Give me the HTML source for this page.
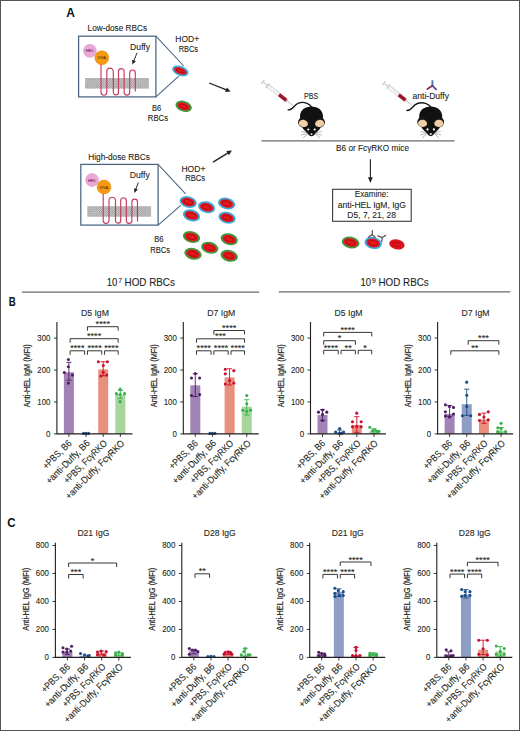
<!DOCTYPE html>
<html><head><meta charset="utf-8"><style>
html,body{margin:0;padding:0;background:#fff;}
svg{display:block;}
text{font-family:"Liberation Sans", sans-serif;}
</style></head><body>
<svg width="520" height="731" viewBox="0 0 520 731" font-family='"Liberation Sans", sans-serif'>
<defs>
<pattern id="mem" width="2.2" height="2.2" patternUnits="userSpaceOnUse">
<rect width="2.2" height="2.2" fill="#d6d6d6"/>
<circle cx="0.55" cy="0.55" r="0.55" fill="#7a7a7a"/>
<circle cx="1.65" cy="1.65" r="0.55" fill="#7a7a7a"/>
</pattern>
</defs>
<rect x="0" y="0" width="520" height="731" fill="#fff"/>
<text x="66.20" y="17.10" font-size="12" text-anchor="start" fill="#111" font-weight="bold" >A</text>
<text x="87.60" y="31.30" font-size="8.5" text-anchor="start" fill="#231f20" font-weight="normal" stroke="#231f20" stroke-width="0.1" textLength="59.5" lengthAdjust="spacingAndGlyphs" >Low-dose RBCs</text>
<rect x="85.10" y="78.00" width="63.80" height="10.6" fill="url(#mem)"/>
<path d="M101.00,57.20 L101.00,92.30 A2.9,2.9 0 0 0 106.80,92.30 L106.80,71.40 A3.25,3.25 0 0 1 113.30,71.40 L113.30,92.30 A2.6,2.6 0 0 0 118.50,92.30 L118.50,71.40 A2.8,2.8 0 0 1 124.10,71.40 L124.10,92.30 A2.8,2.8 0 0 0 129.70,92.30 L129.70,72.80 A2.8,2.8 0 0 1 135.30,72.80 L135.30,91.60" fill="none" stroke="#c8385e" stroke-width="1.15"/>
<circle cx="89.90" cy="50.80" r="6.5" fill="#eaa8d4" stroke="#d990c6" stroke-width="0.5"/>
<text x="89.90" y="52.30" font-size="4.3" text-anchor="middle" fill="#7a2a6e" font-weight="normal" stroke="#7a2a6e" stroke-width="0.1" >HEL</text>
<circle cx="101.80" cy="57.80" r="7.0" fill="#f39a12" stroke="#e08400" stroke-width="0.5"/>
<text x="101.80" y="59.30" font-size="4.3" text-anchor="middle" fill="#6a3400" font-weight="normal" stroke="#6a3400" stroke-width="0.1" >OVA</text>
<text x="130.10" y="50.00" font-size="8.5" text-anchor="start" fill="#231f20" font-weight="normal" stroke="#231f20" stroke-width="0.1" textLength="20" lengthAdjust="spacingAndGlyphs" >Duffy</text>
<line x1="137.00" y1="52.80" x2="133.82" y2="60.97" stroke="#231f20" stroke-width="0.95"/>
<path d="M132.40,64.60 L132.13,59.77 L135.86,61.23 Z" fill="#231f20"/>
<rect x="78.60" y="36.20" width="77.3" height="60.7" fill="none" stroke="#4a6480" stroke-width="1.25"/>
<line x1="155.90" y1="36.20" x2="183.70" y2="66.00" stroke="#4a6480" stroke-width="1.05"/>
<line x1="155.90" y1="96.90" x2="178.80" y2="76.20" stroke="#4a6480" stroke-width="1.05"/>
<text x="88.30" y="159.50" font-size="8.5" text-anchor="start" fill="#231f20" font-weight="normal" stroke="#231f20" stroke-width="0.1" textLength="61.5" lengthAdjust="spacingAndGlyphs" >High-dose RBCs</text>
<rect x="87.30" y="206.20" width="63.80" height="10.6" fill="url(#mem)"/>
<path d="M103.20,185.40 L103.20,220.50 A2.9,2.9 0 0 0 109.00,220.50 L109.00,200.50 A3.25,3.25 0 0 1 115.50,200.50 L115.50,220.50 A2.6,2.6 0 0 0 120.70,220.50 L120.70,200.50 A2.8,2.8 0 0 1 126.30,200.50 L126.30,220.50 A2.8,2.8 0 0 0 131.90,220.50 L131.90,201.90 A2.8,2.8 0 0 1 137.50,201.90 L137.50,221.60" fill="none" stroke="#c8385e" stroke-width="1.15"/>
<circle cx="92.10" cy="180.00" r="6.5" fill="#eaa8d4" stroke="#d990c6" stroke-width="0.5"/>
<text x="92.10" y="181.50" font-size="4.3" text-anchor="middle" fill="#7a2a6e" font-weight="normal" stroke="#7a2a6e" stroke-width="0.1" >HEL</text>
<circle cx="104.00" cy="187.00" r="7.0" fill="#f39a12" stroke="#e08400" stroke-width="0.5"/>
<text x="104.00" y="188.50" font-size="4.3" text-anchor="middle" fill="#6a3400" font-weight="normal" stroke="#6a3400" stroke-width="0.1" >OVA</text>
<text x="129.80" y="178.20" font-size="8.5" text-anchor="start" fill="#231f20" font-weight="normal" stroke="#231f20" stroke-width="0.1" textLength="20" lengthAdjust="spacingAndGlyphs" >Duffy</text>
<line x1="138.30" y1="182.50" x2="135.76" y2="189.34" stroke="#231f20" stroke-width="0.95"/>
<path d="M134.40,193.00 L134.06,188.18 L137.81,189.57 Z" fill="#231f20"/>
<rect x="80.80" y="164.40" width="77.3" height="60.7" fill="none" stroke="#4a6480" stroke-width="1.25"/>
<line x1="158.10" y1="164.40" x2="185.60" y2="193.80" stroke="#4a6480" stroke-width="1.05"/>
<line x1="158.10" y1="225.10" x2="180.80" y2="205.40" stroke="#4a6480" stroke-width="1.05"/>
<text x="187.20" y="42.40" font-size="8.4" text-anchor="middle" fill="#231f20" font-weight="normal" stroke="#231f20" stroke-width="0.1" textLength="23.8" lengthAdjust="spacingAndGlyphs" >HOD+</text>
<text x="188.40" y="51.80" font-size="8.4" text-anchor="middle" fill="#231f20" font-weight="normal" stroke="#231f20" stroke-width="0.1" textLength="19.4" lengthAdjust="spacingAndGlyphs" >RBCs</text>
<text x="156.70" y="110.90" font-size="8.4" text-anchor="middle" fill="#231f20" font-weight="normal" stroke="#231f20" stroke-width="0.1" textLength="9.3" lengthAdjust="spacingAndGlyphs" >B6</text>
<text x="157.90" y="121.10" font-size="8.4" text-anchor="middle" fill="#231f20" font-weight="normal" stroke="#231f20" stroke-width="0.1" textLength="20.2" lengthAdjust="spacingAndGlyphs" >RBCs</text>
<g transform="translate(180.40,70.90) rotate(20)"><ellipse rx="8.6" ry="4.9" fill="#3aaee0"/><ellipse rx="6.70" ry="3.20" fill="#e3171d"/><ellipse rx="4.40" ry="1.50" fill="none" stroke="#b00a14" stroke-width="0.9"/></g>
<g transform="translate(183.60,106.30) rotate(18)"><ellipse rx="8.4" ry="5.3" fill="#3d9b3f"/><ellipse rx="6.50" ry="3.60" fill="#e3171d"/><ellipse rx="4.20" ry="1.90" fill="none" stroke="#b00a14" stroke-width="0.9"/></g>
<text x="193.40" y="171.80" font-size="8.4" text-anchor="middle" fill="#231f20" font-weight="normal" stroke="#231f20" stroke-width="0.1" textLength="24.0" lengthAdjust="spacingAndGlyphs" >HOD+</text>
<text x="195.20" y="181.40" font-size="8.4" text-anchor="middle" fill="#231f20" font-weight="normal" stroke="#231f20" stroke-width="0.1" textLength="20.0" lengthAdjust="spacingAndGlyphs" >RBCs</text>
<text x="158.90" y="242.30" font-size="8.4" text-anchor="middle" fill="#231f20" font-weight="normal" stroke="#231f20" stroke-width="0.1" textLength="9.4" lengthAdjust="spacingAndGlyphs" >B6</text>
<text x="160.10" y="252.70" font-size="8.4" text-anchor="middle" fill="#231f20" font-weight="normal" stroke="#231f20" stroke-width="0.1" textLength="19.8" lengthAdjust="spacingAndGlyphs" >RBCs</text>
<g transform="translate(188.20,202.00) rotate(15)"><ellipse rx="8.8" ry="5.8" fill="#3aaee0"/><ellipse rx="6.90" ry="4.10" fill="#e3171d"/><ellipse rx="4.60" ry="2.40" fill="none" stroke="#b00a14" stroke-width="0.9"/></g>
<g transform="translate(206.60,207.20) rotate(15)"><ellipse rx="8.8" ry="5.8" fill="#3aaee0"/><ellipse rx="6.90" ry="4.10" fill="#e3171d"/><ellipse rx="4.60" ry="2.40" fill="none" stroke="#b00a14" stroke-width="0.9"/></g>
<g transform="translate(226.60,203.50) rotate(15)"><ellipse rx="8.8" ry="5.8" fill="#3aaee0"/><ellipse rx="6.90" ry="4.10" fill="#e3171d"/><ellipse rx="4.60" ry="2.40" fill="none" stroke="#b00a14" stroke-width="0.9"/></g>
<g transform="translate(191.50,215.40) rotate(15)"><ellipse rx="8.8" ry="5.8" fill="#3aaee0"/><ellipse rx="6.90" ry="4.10" fill="#e3171d"/><ellipse rx="4.60" ry="2.40" fill="none" stroke="#b00a14" stroke-width="0.9"/></g>
<g transform="translate(227.00,217.70) rotate(15)"><ellipse rx="8.8" ry="5.8" fill="#3aaee0"/><ellipse rx="6.90" ry="4.10" fill="#e3171d"/><ellipse rx="4.60" ry="2.40" fill="none" stroke="#b00a14" stroke-width="0.9"/></g>
<g transform="translate(191.50,237.00) rotate(15)"><ellipse rx="8.8" ry="5.8" fill="#3d9b3f"/><ellipse rx="6.90" ry="4.10" fill="#e3171d"/><ellipse rx="4.60" ry="2.40" fill="none" stroke="#b00a14" stroke-width="0.9"/></g>
<g transform="translate(229.20,239.20) rotate(15)"><ellipse rx="8.8" ry="5.8" fill="#3d9b3f"/><ellipse rx="6.90" ry="4.10" fill="#e3171d"/><ellipse rx="4.60" ry="2.40" fill="none" stroke="#b00a14" stroke-width="0.9"/></g>
<g transform="translate(209.70,247.70) rotate(15)"><ellipse rx="8.8" ry="5.8" fill="#3d9b3f"/><ellipse rx="6.90" ry="4.10" fill="#e3171d"/><ellipse rx="4.60" ry="2.40" fill="none" stroke="#b00a14" stroke-width="0.9"/></g>
<g transform="translate(193.00,253.80) rotate(15)"><ellipse rx="8.8" ry="5.8" fill="#3d9b3f"/><ellipse rx="6.90" ry="4.10" fill="#e3171d"/><ellipse rx="4.60" ry="2.40" fill="none" stroke="#b00a14" stroke-width="0.9"/></g>
<g transform="translate(229.20,255.80) rotate(15)"><ellipse rx="8.8" ry="5.8" fill="#3d9b3f"/><ellipse rx="6.90" ry="4.10" fill="#e3171d"/><ellipse rx="4.60" ry="2.40" fill="none" stroke="#b00a14" stroke-width="0.9"/></g>
<line x1="209.20" y1="83.00" x2="226.42" y2="89.92" stroke="#231f20" stroke-width="1.3"/>
<path d="M230.60,91.60 L225.03,92.06 L226.89,87.42 Z" fill="#231f20"/>
<line x1="213.00" y1="162.10" x2="228.06" y2="152.85" stroke="#231f20" stroke-width="1.3"/>
<path d="M231.90,150.50 L228.95,155.25 L226.33,150.98 Z" fill="#231f20"/>
<g transform="translate(262.00,81.20) rotate(38.21)">
<rect x="0.5" y="-2.6" width="1.1" height="5.2" fill="#c4c4c4"/>
<rect x="1.6" y="-0.8" width="6.31" height="1.6" fill="#d6d6d6"/>
<rect x="7.50" y="-1.8" width="23.67" height="3.6" fill="#f6f6f6" stroke="#bdbdbd" stroke-width="0.5"/>
<rect x="6.70" y="-2.9" width="0.9" height="5.8" fill="#c0c0c0"/>
<line x1="9.70" y1="-1.8" x2="9.70" y2="-0.4" stroke="#b0b0b0" stroke-width="0.4"/>
<line x1="11.70" y1="-1.8" x2="11.70" y2="-0.4" stroke="#b0b0b0" stroke-width="0.4"/>
<line x1="13.70" y1="-1.8" x2="13.70" y2="-0.4" stroke="#b0b0b0" stroke-width="0.4"/>
<line x1="15.70" y1="-1.8" x2="15.70" y2="-0.4" stroke="#b0b0b0" stroke-width="0.4"/>
<line x1="17.70" y1="-1.8" x2="17.70" y2="-0.4" stroke="#b0b0b0" stroke-width="0.4"/>
<line x1="19.70" y1="-1.8" x2="19.70" y2="-0.4" stroke="#b0b0b0" stroke-width="0.4"/>
<rect x="21.70" y="-1.7" width="9.27" height="3.4" fill="#9a1526"/>
<path d="M31.17,-1.5 L32.97,-0.45 L32.97,0.45 L31.17,1.5 Z" fill="#c8c8c8"/>
<line x1="32.77" y1="0" x2="39.45" y2="0" stroke="#a0a0a0" stroke-width="0.65"/>
</g>
<g transform="translate(383.00,82.40) rotate(38.32)">
<rect x="0.5" y="-2.6" width="1.1" height="5.2" fill="#c4c4c4"/>
<rect x="1.6" y="-0.8" width="5.83" height="1.6" fill="#d6d6d6"/>
<rect x="6.93" y="-1.8" width="21.87" height="3.6" fill="#f6f6f6" stroke="#bdbdbd" stroke-width="0.5"/>
<rect x="6.13" y="-2.9" width="0.9" height="5.8" fill="#c0c0c0"/>
<line x1="9.13" y1="-1.8" x2="9.13" y2="-0.4" stroke="#b0b0b0" stroke-width="0.4"/>
<line x1="11.13" y1="-1.8" x2="11.13" y2="-0.4" stroke="#b0b0b0" stroke-width="0.4"/>
<line x1="13.13" y1="-1.8" x2="13.13" y2="-0.4" stroke="#b0b0b0" stroke-width="0.4"/>
<line x1="15.13" y1="-1.8" x2="15.13" y2="-0.4" stroke="#b0b0b0" stroke-width="0.4"/>
<line x1="17.13" y1="-1.8" x2="17.13" y2="-0.4" stroke="#b0b0b0" stroke-width="0.4"/>
<line x1="19.13" y1="-1.8" x2="19.13" y2="-0.4" stroke="#b0b0b0" stroke-width="0.4"/>
<rect x="20.05" y="-1.7" width="8.57" height="3.4" fill="#9a1526"/>
<path d="M28.80,-1.5 L30.60,-0.45 L30.60,0.45 L28.80,1.5 Z" fill="#c8c8c8"/>
<line x1="30.40" y1="0" x2="36.45" y2="0" stroke="#a0a0a0" stroke-width="0.65"/>
</g>
<text x="304.00" y="98.80" font-size="8.4" text-anchor="start" fill="#231f20" font-weight="normal" stroke="#231f20" stroke-width="0.1" textLength="14.2" lengthAdjust="spacingAndGlyphs" >PBS</text>
<text x="412.50" y="99.00" font-size="8.4" text-anchor="start" fill="#231f20" font-weight="normal" stroke="#231f20" stroke-width="0.1" textLength="36.5" lengthAdjust="spacingAndGlyphs" >anti-Duffy</text>
<g transform="translate(432.40,85.70) rotate(0) scale(1.0)">
<line x1="0" y1="-5.4" x2="0" y2="0" stroke="#4f78a8" stroke-width="1.9"/>
<line x1="0" y1="0" x2="-5.0" y2="3.3" stroke="#8a3358" stroke-width="1.9" stroke-linecap="round"/>
<line x1="0" y1="0" x2="3.6" y2="3.6" stroke="#55508a" stroke-width="1.9" stroke-linecap="round"/>
</g>
<path d="M288.2,109.8 C291.5,110.6 293.5,106.5 296.5,104.2 C300,101.6 306,101.8 309.5,104.8 L311.5,107" fill="none" stroke="#151515" stroke-width="1.35" stroke-linecap="round"/>
<g transform="translate(311.50,106.60)">
<path d="M0,0 C6.6,0 11.2,3.8 11.5,9.5 L11.5,13 C10.5,17.5 9.5,20 8.3,22.3 L2.2,28.8 C1.2,29.9 -1.2,29.9 -2.2,28.8 L-8.3,22.3 C-9.5,20 -10.5,17.5 -11.5,13 L-11.5,9.5 C-11.2,3.8 -6.6,0 0,0 Z" fill="#111"/>
<ellipse cx="-8.0" cy="15.6" rx="5.4" ry="5.3" fill="#1a1512"/>
<ellipse cx="8.0" cy="15.6" rx="5.4" ry="5.3" fill="#1a1512"/>
<path d="M-12.6,16.2 C-12.2,13.8 -9.5,12.9 -7.5,13.3 C-5.2,13.8 -3.4,15.6 -3.6,17.6 C-3.8,19.6 -6.3,20.6 -8.6,20.4 C-11.3,20.1 -12.9,18.3 -12.6,16.2 Z" fill="#f0cfa6"/>
<path d="M12.6,16.2 C12.2,13.8 9.5,12.9 7.5,13.3 C5.2,13.8 3.4,15.6 3.6,17.6 C3.8,19.6 6.3,20.6 8.6,20.4 C11.3,20.1 12.9,18.3 12.6,16.2 Z" fill="#f0cfa6"/>
<circle cx="-3.2" cy="22.9" r="1.1" fill="#fff"/>
<circle cx="3.2" cy="22.9" r="1.1" fill="#fff"/>
<ellipse cx="0" cy="27.5" rx="1.1" ry="0.9" fill="#f4e4e4"/>
<path d="M-3.8,26.2 L-10.2,25.0 M-3.8,27.0 L-10.4,28.4 M-4.2,27.8 L-8.6,31.4" stroke="#8a8a8a" stroke-width="0.6" fill="none"/>
<path d="M3.8,26.2 L10.2,25.0 M3.8,27.0 L10.4,28.4 M4.2,27.8 L8.6,31.4" stroke="#8a8a8a" stroke-width="0.6" fill="none"/>
</g>
<path d="M406.8,110.4 C410,111.2 412.2,107.0 415.3,104.6 C418.8,102.0 425,102.2 428.7,105.0 L430.7,107" fill="none" stroke="#151515" stroke-width="1.35" stroke-linecap="round"/>
<g transform="translate(430.70,106.50)">
<path d="M0,0 C6.6,0 11.2,3.8 11.5,9.5 L11.5,13 C10.5,17.5 9.5,20 8.3,22.3 L2.2,28.8 C1.2,29.9 -1.2,29.9 -2.2,28.8 L-8.3,22.3 C-9.5,20 -10.5,17.5 -11.5,13 L-11.5,9.5 C-11.2,3.8 -6.6,0 0,0 Z" fill="#111"/>
<ellipse cx="-8.0" cy="15.6" rx="5.4" ry="5.3" fill="#1a1512"/>
<ellipse cx="8.0" cy="15.6" rx="5.4" ry="5.3" fill="#1a1512"/>
<path d="M-12.6,16.2 C-12.2,13.8 -9.5,12.9 -7.5,13.3 C-5.2,13.8 -3.4,15.6 -3.6,17.6 C-3.8,19.6 -6.3,20.6 -8.6,20.4 C-11.3,20.1 -12.9,18.3 -12.6,16.2 Z" fill="#f0cfa6"/>
<path d="M12.6,16.2 C12.2,13.8 9.5,12.9 7.5,13.3 C5.2,13.8 3.4,15.6 3.6,17.6 C3.8,19.6 6.3,20.6 8.6,20.4 C11.3,20.1 12.9,18.3 12.6,16.2 Z" fill="#f0cfa6"/>
<circle cx="-3.2" cy="22.9" r="1.1" fill="#fff"/>
<circle cx="3.2" cy="22.9" r="1.1" fill="#fff"/>
<ellipse cx="0" cy="27.5" rx="1.1" ry="0.9" fill="#f4e4e4"/>
<path d="M-3.8,26.2 L-10.2,25.0 M-3.8,27.0 L-10.4,28.4 M-4.2,27.8 L-8.6,31.4" stroke="#8a8a8a" stroke-width="0.6" fill="none"/>
<path d="M3.8,26.2 L10.2,25.0 M3.8,27.0 L10.4,28.4 M4.2,27.8 L8.6,31.4" stroke="#8a8a8a" stroke-width="0.6" fill="none"/>
</g>
<line x1="261.5" y1="140.9" x2="454.6" y2="140.9" stroke="#6b6b6b" stroke-width="1.2"/>
<text x="336.00" y="151.10" font-size="8.5" text-anchor="start" fill="#231f20" font-weight="normal" stroke="#231f20" stroke-width="0.1" textLength="73" lengthAdjust="spacingAndGlyphs" >B6 or Fc&#947;RKO mice</text>
<line x1="370.40" y1="159.30" x2="370.40" y2="177.70" stroke="#231f20" stroke-width="1.1"/>
<path d="M370.40,183.00 L368.00,177.20 L372.80,177.20 Z" fill="#231f20"/>
<rect x="332.6" y="189.3" width="78.6" height="32" fill="none" stroke="#3a3a3a" stroke-width="1.1"/>
<text x="371.60" y="196.80" font-size="8.5" text-anchor="middle" fill="#231f20" font-weight="normal" stroke="#231f20" stroke-width="0.1" textLength="33.7" lengthAdjust="spacingAndGlyphs" >Examine:</text>
<text x="371.90" y="208.00" font-size="8.5" text-anchor="middle" fill="#231f20" font-weight="normal" stroke="#231f20" stroke-width="0.1" textLength="68.3" lengthAdjust="spacingAndGlyphs" >anti-HEL IgM, IgG</text>
<text x="371.60" y="217.70" font-size="8.5" text-anchor="middle" fill="#231f20" font-weight="normal" stroke="#231f20" stroke-width="0.1" textLength="48.5" lengthAdjust="spacingAndGlyphs" >D5, 7, 21, 28</text>
<g transform="translate(350.60,242.50) rotate(12)"><ellipse rx="9.0" ry="5.8" fill="#3d9b3f"/><ellipse rx="7.10" ry="4.10" fill="#e3171d"/><ellipse rx="4.80" ry="2.40" fill="none" stroke="#b00a14" stroke-width="0.9"/></g>
<g transform="translate(373.20,243.00) rotate(12)"><ellipse rx="8.8" ry="6.0" fill="#3aaee0"/><ellipse rx="6.90" ry="4.30" fill="#e3171d"/><ellipse rx="4.60" ry="2.60" fill="none" stroke="#b00a14" stroke-width="0.9"/></g>
<g transform="translate(396.9,244.4) rotate(12)"><ellipse rx="7.8" ry="5.0" fill="#e0141c"/><ellipse rx="4.2" ry="2.0" fill="none" stroke="#b00a14" stroke-width="0.9"/></g>
<g transform="translate(372.30,234.60) rotate(0) scale(0.8)">
<line x1="0" y1="-5.4" x2="0" y2="0" stroke="#5a5a62" stroke-width="1.6"/>
<line x1="0" y1="0" x2="-5.0" y2="3.3" stroke="#5a5a62" stroke-width="1.6" stroke-linecap="round"/>
<line x1="0" y1="0" x2="3.6" y2="3.6" stroke="#5a5a62" stroke-width="1.6" stroke-linecap="round"/>
</g>
<g transform="translate(382.40,237.60) rotate(55) scale(0.8)">
<line x1="0" y1="-5.4" x2="0" y2="0" stroke="#5a5a62" stroke-width="1.6"/>
<line x1="0" y1="0" x2="-5.0" y2="3.3" stroke="#5a5a62" stroke-width="1.6" stroke-linecap="round"/>
<line x1="0" y1="0" x2="3.6" y2="3.6" stroke="#5a5a62" stroke-width="1.6" stroke-linecap="round"/>
</g>
<text x="8.80" y="305.80" font-size="12.9" text-anchor="start" fill="#111" font-weight="bold" textLength="7.0" lengthAdjust="spacingAndGlyphs" >B</text>
<text x="7.20" y="526.70" font-size="13.2" text-anchor="start" fill="#111" font-weight="bold" textLength="8.3" lengthAdjust="spacingAndGlyphs" >C</text>
<line x1="22" y1="292.1" x2="259.3" y2="292.1" stroke="#6b6b6b" stroke-width="1.2"/>
<line x1="278.7" y1="291.9" x2="510.4" y2="291.9" stroke="#6b6b6b" stroke-width="1.2"/>
<text x="106.80" y="286.20" font-size="10.6" text-anchor="start" fill="#231f20" font-weight="normal" stroke="#231f20" stroke-width="0.1" textLength="10.6" lengthAdjust="spacingAndGlyphs" >10</text>
<text x="118.20" y="282.60" font-size="6.8" text-anchor="start" fill="#231f20" font-weight="normal" stroke="#231f20" stroke-width="0.1" >7</text>
<text x="124.60" y="286.20" font-size="10.2" text-anchor="start" fill="#231f20" font-weight="normal" stroke="#231f20" stroke-width="0.1" textLength="50.3" lengthAdjust="spacingAndGlyphs" >HOD RBCs</text>
<text x="360.50" y="286.10" font-size="10.6" text-anchor="start" fill="#231f20" font-weight="normal" stroke="#231f20" stroke-width="0.1" textLength="10.6" lengthAdjust="spacingAndGlyphs" >10</text>
<text x="371.90" y="282.50" font-size="6.8" text-anchor="start" fill="#231f20" font-weight="normal" stroke="#231f20" stroke-width="0.1" >9</text>
<text x="378.50" y="286.10" font-size="10.2" text-anchor="start" fill="#231f20" font-weight="normal" stroke="#231f20" stroke-width="0.1" textLength="50.2" lengthAdjust="spacingAndGlyphs" >HOD RBCs</text>
<rect x="63.90" y="372.24" width="10" height="61.66" fill="#a283b5"/>
<path d="M68.90,380.22 V362.33 M66.30,362.33 H71.50 M66.30,380.22 H71.50" stroke="#4f1f66" stroke-width="0.9" fill="none"/>
<circle cx="68.40" cy="359.46" r="1.55" fill="#4f1f66"/>
<circle cx="68.40" cy="366.80" r="1.55" fill="#4f1f66"/>
<circle cx="64.30" cy="372.56" r="1.55" fill="#4f1f66"/>
<circle cx="72.40" cy="375.11" r="1.55" fill="#4f1f66"/>
<circle cx="68.40" cy="383.10" r="1.55" fill="#4f1f66"/>
<rect x="81.05" y="433.58" width="10" height="0.32" fill="#8d9dc6"/>
<circle cx="83.55" cy="433.42" r="1.55" fill="#1c4d8c"/>
<circle cx="86.05" cy="433.42" r="1.55" fill="#1c4d8c"/>
<circle cx="88.55" cy="433.42" r="1.55" fill="#1c4d8c"/>
<rect x="98.20" y="369.36" width="10" height="64.54" fill="#e88f7e"/>
<path d="M103.20,375.75 V361.69 M100.60,361.69 H105.80 M100.60,375.75 H105.80" stroke="#c8102e" stroke-width="0.9" fill="none"/>
<circle cx="98.40" cy="361.69" r="1.55" fill="#c8102e"/>
<circle cx="107.40" cy="361.69" r="1.55" fill="#c8102e"/>
<circle cx="103.30" cy="365.53" r="1.55" fill="#c8102e"/>
<circle cx="100.90" cy="376.07" r="1.55" fill="#c8102e"/>
<circle cx="106.60" cy="375.11" r="1.55" fill="#c8102e"/>
<circle cx="103.20" cy="372.24" r="1.55" fill="#c8102e"/>
<rect x="115.35" y="394.60" width="10" height="39.30" fill="#a8d59c"/>
<path d="M120.35,398.44 V390.45 M117.75,390.45 H122.95 M117.75,398.44 H122.95" stroke="#35b24a" stroke-width="0.9" fill="none"/>
<circle cx="120.15" cy="389.17" r="1.55" fill="#35b24a"/>
<circle cx="116.35" cy="393.64" r="1.55" fill="#35b24a"/>
<circle cx="124.55" cy="393.64" r="1.55" fill="#35b24a"/>
<circle cx="120.15" cy="394.28" r="1.55" fill="#35b24a"/>
<circle cx="120.15" cy="401.63" r="1.55" fill="#35b24a"/>
<path d="M56.90,322.07 V433.90 H132.40" stroke="#231f20" stroke-width="1.1" fill="none"/>
<line x1="53.90" y1="433.90" x2="56.90" y2="433.90" stroke="#231f20" stroke-width="0.9"/>
<text x="50.50" y="436.55" font-size="9.0" text-anchor="end" fill="#231f20" font-weight="normal" stroke="#231f20" stroke-width="0.1" textLength="4.4" lengthAdjust="spacingAndGlyphs" >0</text>
<line x1="53.90" y1="401.95" x2="56.90" y2="401.95" stroke="#231f20" stroke-width="0.9"/>
<text x="50.50" y="404.60" font-size="9.0" text-anchor="end" fill="#231f20" font-weight="normal" stroke="#231f20" stroke-width="0.1" textLength="13.200000000000001" lengthAdjust="spacingAndGlyphs" >100</text>
<line x1="53.90" y1="370.00" x2="56.90" y2="370.00" stroke="#231f20" stroke-width="0.9"/>
<text x="50.50" y="372.65" font-size="9.0" text-anchor="end" fill="#231f20" font-weight="normal" stroke="#231f20" stroke-width="0.1" textLength="13.200000000000001" lengthAdjust="spacingAndGlyphs" >200</text>
<line x1="53.90" y1="338.05" x2="56.90" y2="338.05" stroke="#231f20" stroke-width="0.9"/>
<text x="50.50" y="340.70" font-size="9.0" text-anchor="end" fill="#231f20" font-weight="normal" stroke="#231f20" stroke-width="0.1" textLength="13.200000000000001" lengthAdjust="spacingAndGlyphs" >300</text>
<line x1="68.90" y1="433.90" x2="68.90" y2="436.90" stroke="#231f20" stroke-width="0.9"/>
<line x1="86.05" y1="433.90" x2="86.05" y2="436.90" stroke="#231f20" stroke-width="0.9"/>
<line x1="103.20" y1="433.90" x2="103.20" y2="436.90" stroke="#231f20" stroke-width="0.9"/>
<line x1="120.35" y1="433.90" x2="120.35" y2="436.90" stroke="#231f20" stroke-width="0.9"/>
<text x="94.90" y="315.90" font-size="8.8" text-anchor="middle" fill="#231f20" font-weight="normal" stroke="#231f20" stroke-width="0.1" textLength="28.0" lengthAdjust="spacingAndGlyphs" >D5 IgM</text>
<text transform="translate(30.40,375.70) rotate(-90)" font-size="9.2" text-anchor="middle" fill="#231f20" stroke="#231f20" stroke-width="0.2" textLength="63" lengthAdjust="spacingAndGlyphs">Anti-HEL IgM (MFI)</text>
<text transform="translate(72.20,443.90) rotate(-45)" font-size="9.6" text-anchor="end" fill="#231f20" stroke="#231f20" stroke-width="0.1" textLength="36.5" lengthAdjust="spacingAndGlyphs">+PBS, B6</text>
<text transform="translate(90.35,443.90) rotate(-45)" font-size="9.6" text-anchor="end" fill="#231f20" stroke="#231f20" stroke-width="0.1" textLength="57.5" lengthAdjust="spacingAndGlyphs">+anti-Duffy, B6</text>
<text transform="translate(107.70,443.90) rotate(-45)" font-size="9.6" text-anchor="end" fill="#231f20" stroke="#231f20" stroke-width="0.1" textLength="57.0" lengthAdjust="spacingAndGlyphs">+PBS, Fc&#947;RKO</text>
<text transform="translate(125.05,443.90) rotate(-45)" font-size="9.6" text-anchor="end" fill="#231f20" stroke="#231f20" stroke-width="0.1" textLength="79.0" lengthAdjust="spacingAndGlyphs">+anti-Duffy, Fc&#947;RKO</text>
<path d="M87.45,330.70 V326.70 H118.15 V330.70" stroke="#231f20" stroke-width="0.9" fill="none"/>
<text x="102.80" y="327.30" font-size="9.0" text-anchor="middle" fill="#231f20" font-weight="normal" stroke="#231f20" stroke-width="0.1" textLength="14.4" lengthAdjust="spacingAndGlyphs" >****</text>
<path d="M70.10,342.70 V338.70 H118.15 V342.70" stroke="#231f20" stroke-width="0.9" fill="none"/>
<text x="94.12" y="339.30" font-size="9.0" text-anchor="middle" fill="#231f20" font-weight="normal" stroke="#231f20" stroke-width="0.1" textLength="14.4" lengthAdjust="spacingAndGlyphs" >****</text>
<path d="M70.10,354.80 V350.80 H84.65 V354.80" stroke="#231f20" stroke-width="0.9" fill="none"/>
<text x="77.38" y="351.40" font-size="9.0" text-anchor="middle" fill="#231f20" font-weight="normal" stroke="#231f20" stroke-width="0.1" textLength="14.4" lengthAdjust="spacingAndGlyphs" >****</text>
<path d="M87.45,354.80 V350.80 H101.80 V354.80" stroke="#231f20" stroke-width="0.9" fill="none"/>
<text x="94.62" y="351.40" font-size="9.0" text-anchor="middle" fill="#231f20" font-weight="normal" stroke="#231f20" stroke-width="0.1" textLength="14.4" lengthAdjust="spacingAndGlyphs" >****</text>
<path d="M104.60,354.80 V350.80 H118.15 V354.80" stroke="#231f20" stroke-width="0.9" fill="none"/>
<text x="111.38" y="351.40" font-size="9.0" text-anchor="middle" fill="#231f20" font-weight="normal" stroke="#231f20" stroke-width="0.1" textLength="14.4" lengthAdjust="spacingAndGlyphs" >****</text>
<rect x="190.30" y="385.34" width="10" height="48.56" fill="#a283b5"/>
<path d="M195.30,396.52 V373.83 M192.70,373.83 H197.90 M192.70,396.52 H197.90" stroke="#4f1f66" stroke-width="0.9" fill="none"/>
<circle cx="191.50" cy="377.99" r="1.55" fill="#4f1f66"/>
<circle cx="199.60" cy="377.99" r="1.55" fill="#4f1f66"/>
<circle cx="195.30" cy="373.51" r="1.55" fill="#4f1f66"/>
<circle cx="191.50" cy="395.56" r="1.55" fill="#4f1f66"/>
<circle cx="199.60" cy="394.60" r="1.55" fill="#4f1f66"/>
<rect x="207.45" y="433.58" width="10" height="0.32" fill="#8d9dc6"/>
<circle cx="209.95" cy="433.42" r="1.55" fill="#1c4d8c"/>
<circle cx="212.45" cy="433.42" r="1.55" fill="#1c4d8c"/>
<circle cx="214.95" cy="433.42" r="1.55" fill="#1c4d8c"/>
<rect x="224.60" y="377.35" width="10" height="56.55" fill="#e88f7e"/>
<path d="M229.60,385.02 V368.72 M227.00,368.72 H232.20 M227.00,385.02 H232.20" stroke="#c8102e" stroke-width="0.9" fill="none"/>
<circle cx="225.30" cy="369.36" r="1.55" fill="#c8102e"/>
<circle cx="233.80" cy="370.64" r="1.55" fill="#c8102e"/>
<circle cx="225.30" cy="373.83" r="1.55" fill="#c8102e"/>
<circle cx="229.60" cy="380.54" r="1.55" fill="#c8102e"/>
<circle cx="225.30" cy="384.06" r="1.55" fill="#c8102e"/>
<circle cx="233.80" cy="383.10" r="1.55" fill="#c8102e"/>
<rect x="241.75" y="406.74" width="10" height="27.16" fill="#a8d59c"/>
<path d="M246.75,415.05 V399.71 M244.15,399.71 H249.35 M244.15,415.05 H249.35" stroke="#35b24a" stroke-width="0.9" fill="none"/>
<circle cx="246.75" cy="395.56" r="1.55" fill="#35b24a"/>
<circle cx="246.75" cy="403.87" r="1.55" fill="#35b24a"/>
<circle cx="242.85" cy="410.26" r="1.55" fill="#35b24a"/>
<circle cx="250.65" cy="410.26" r="1.55" fill="#35b24a"/>
<circle cx="246.75" cy="411.22" r="1.55" fill="#35b24a"/>
<path d="M183.30,322.07 V433.90 H258.80" stroke="#231f20" stroke-width="1.1" fill="none"/>
<line x1="180.30" y1="433.90" x2="183.30" y2="433.90" stroke="#231f20" stroke-width="0.9"/>
<text x="176.90" y="436.55" font-size="9.0" text-anchor="end" fill="#231f20" font-weight="normal" stroke="#231f20" stroke-width="0.1" textLength="4.4" lengthAdjust="spacingAndGlyphs" >0</text>
<line x1="180.30" y1="401.95" x2="183.30" y2="401.95" stroke="#231f20" stroke-width="0.9"/>
<text x="176.90" y="404.60" font-size="9.0" text-anchor="end" fill="#231f20" font-weight="normal" stroke="#231f20" stroke-width="0.1" textLength="13.200000000000001" lengthAdjust="spacingAndGlyphs" >100</text>
<line x1="180.30" y1="370.00" x2="183.30" y2="370.00" stroke="#231f20" stroke-width="0.9"/>
<text x="176.90" y="372.65" font-size="9.0" text-anchor="end" fill="#231f20" font-weight="normal" stroke="#231f20" stroke-width="0.1" textLength="13.200000000000001" lengthAdjust="spacingAndGlyphs" >200</text>
<line x1="180.30" y1="338.05" x2="183.30" y2="338.05" stroke="#231f20" stroke-width="0.9"/>
<text x="176.90" y="340.70" font-size="9.0" text-anchor="end" fill="#231f20" font-weight="normal" stroke="#231f20" stroke-width="0.1" textLength="13.200000000000001" lengthAdjust="spacingAndGlyphs" >300</text>
<line x1="195.30" y1="433.90" x2="195.30" y2="436.90" stroke="#231f20" stroke-width="0.9"/>
<line x1="212.45" y1="433.90" x2="212.45" y2="436.90" stroke="#231f20" stroke-width="0.9"/>
<line x1="229.60" y1="433.90" x2="229.60" y2="436.90" stroke="#231f20" stroke-width="0.9"/>
<line x1="246.75" y1="433.90" x2="246.75" y2="436.90" stroke="#231f20" stroke-width="0.9"/>
<text x="221.30" y="315.90" font-size="8.8" text-anchor="middle" fill="#231f20" font-weight="normal" stroke="#231f20" stroke-width="0.1" textLength="28.0" lengthAdjust="spacingAndGlyphs" >D7 IgM</text>
<text transform="translate(156.80,375.70) rotate(-90)" font-size="9.2" text-anchor="middle" fill="#231f20" stroke="#231f20" stroke-width="0.2" textLength="63" lengthAdjust="spacingAndGlyphs">Anti-HEL IgM (MFI)</text>
<text transform="translate(198.60,443.90) rotate(-45)" font-size="9.6" text-anchor="end" fill="#231f20" stroke="#231f20" stroke-width="0.1" textLength="36.5" lengthAdjust="spacingAndGlyphs">+PBS, B6</text>
<text transform="translate(216.75,443.90) rotate(-45)" font-size="9.6" text-anchor="end" fill="#231f20" stroke="#231f20" stroke-width="0.1" textLength="57.5" lengthAdjust="spacingAndGlyphs">+anti-Duffy, B6</text>
<text transform="translate(234.10,443.90) rotate(-45)" font-size="9.6" text-anchor="end" fill="#231f20" stroke="#231f20" stroke-width="0.1" textLength="57.0" lengthAdjust="spacingAndGlyphs">+PBS, Fc&#947;RKO</text>
<text transform="translate(251.45,443.90) rotate(-45)" font-size="9.6" text-anchor="end" fill="#231f20" stroke="#231f20" stroke-width="0.1" textLength="79.0" lengthAdjust="spacingAndGlyphs">+anti-Duffy, Fc&#947;RKO</text>
<path d="M213.85,334.50 V330.50 H244.55 V334.50" stroke="#231f20" stroke-width="0.9" fill="none"/>
<text x="229.20" y="331.10" font-size="9.0" text-anchor="middle" fill="#231f20" font-weight="normal" stroke="#231f20" stroke-width="0.1" textLength="14.4" lengthAdjust="spacingAndGlyphs" >****</text>
<path d="M196.50,342.80 V338.80 H244.55 V342.80" stroke="#231f20" stroke-width="0.9" fill="none"/>
<text x="220.53" y="339.40" font-size="9.0" text-anchor="middle" fill="#231f20" font-weight="normal" stroke="#231f20" stroke-width="0.1" textLength="10.8" lengthAdjust="spacingAndGlyphs" >***</text>
<path d="M196.50,354.80 V350.80 H211.05 V354.80" stroke="#231f20" stroke-width="0.9" fill="none"/>
<text x="203.78" y="351.40" font-size="9.0" text-anchor="middle" fill="#231f20" font-weight="normal" stroke="#231f20" stroke-width="0.1" textLength="14.4" lengthAdjust="spacingAndGlyphs" >****</text>
<path d="M213.85,354.80 V350.80 H228.20 V354.80" stroke="#231f20" stroke-width="0.9" fill="none"/>
<text x="221.03" y="351.40" font-size="9.0" text-anchor="middle" fill="#231f20" font-weight="normal" stroke="#231f20" stroke-width="0.1" textLength="14.4" lengthAdjust="spacingAndGlyphs" >****</text>
<path d="M231.00,354.80 V350.80 H244.55 V354.80" stroke="#231f20" stroke-width="0.9" fill="none"/>
<text x="237.78" y="351.40" font-size="9.0" text-anchor="middle" fill="#231f20" font-weight="normal" stroke="#231f20" stroke-width="0.1" textLength="14.4" lengthAdjust="spacingAndGlyphs" >****</text>
<rect x="317.50" y="415.05" width="10" height="18.85" fill="#a283b5"/>
<path d="M322.50,420.48 V409.62 M319.90,409.62 H325.10 M319.90,420.48 H325.10" stroke="#4f1f66" stroke-width="0.9" fill="none"/>
<circle cx="318.50" cy="412.17" r="1.55" fill="#4f1f66"/>
<circle cx="326.80" cy="412.17" r="1.55" fill="#4f1f66"/>
<circle cx="322.50" cy="409.94" r="1.55" fill="#4f1f66"/>
<circle cx="322.50" cy="414.41" r="1.55" fill="#4f1f66"/>
<circle cx="322.50" cy="420.48" r="1.55" fill="#4f1f66"/>
<rect x="334.65" y="432.30" width="10" height="1.60" fill="#8d9dc6"/>
<path d="M339.65,433.90 V430.07 M337.05,430.07 H342.25 M337.05,433.90 H342.25" stroke="#1c4d8c" stroke-width="0.9" fill="none"/>
<circle cx="339.65" cy="428.47" r="1.55" fill="#1c4d8c"/>
<circle cx="335.65" cy="431.98" r="1.55" fill="#1c4d8c"/>
<circle cx="343.65" cy="431.98" r="1.55" fill="#1c4d8c"/>
<circle cx="339.65" cy="432.94" r="1.55" fill="#1c4d8c"/>
<circle cx="341.65" cy="433.26" r="1.55" fill="#1c4d8c"/>
<rect x="351.80" y="424.95" width="10" height="8.95" fill="#e88f7e"/>
<path d="M356.80,432.30 V416.65 M354.20,416.65 H359.40 M354.20,432.30 H359.40" stroke="#c8102e" stroke-width="0.9" fill="none"/>
<circle cx="356.80" cy="413.13" r="1.55" fill="#c8102e"/>
<circle cx="352.50" cy="421.76" r="1.55" fill="#c8102e"/>
<circle cx="361.20" cy="421.76" r="1.55" fill="#c8102e"/>
<circle cx="352.50" cy="426.87" r="1.55" fill="#c8102e"/>
<circle cx="356.80" cy="426.55" r="1.55" fill="#c8102e"/>
<circle cx="361.20" cy="426.87" r="1.55" fill="#c8102e"/>
<rect x="368.95" y="431.34" width="10" height="2.56" fill="#a8d59c"/>
<path d="M373.95,433.26 V428.79 M371.35,428.79 H376.55 M371.35,433.26 H376.55" stroke="#35b24a" stroke-width="0.9" fill="none"/>
<circle cx="369.75" cy="427.19" r="1.55" fill="#35b24a"/>
<circle cx="372.45" cy="430.70" r="1.55" fill="#35b24a"/>
<circle cx="377.15" cy="431.34" r="1.55" fill="#35b24a"/>
<circle cx="378.95" cy="431.34" r="1.55" fill="#35b24a"/>
<circle cx="374.95" cy="430.07" r="1.55" fill="#35b24a"/>
<path d="M310.50,322.07 V433.90 H386.00" stroke="#231f20" stroke-width="1.1" fill="none"/>
<line x1="307.50" y1="433.90" x2="310.50" y2="433.90" stroke="#231f20" stroke-width="0.9"/>
<text x="304.10" y="436.55" font-size="9.0" text-anchor="end" fill="#231f20" font-weight="normal" stroke="#231f20" stroke-width="0.1" textLength="4.4" lengthAdjust="spacingAndGlyphs" >0</text>
<line x1="307.50" y1="401.95" x2="310.50" y2="401.95" stroke="#231f20" stroke-width="0.9"/>
<text x="304.10" y="404.60" font-size="9.0" text-anchor="end" fill="#231f20" font-weight="normal" stroke="#231f20" stroke-width="0.1" textLength="13.200000000000001" lengthAdjust="spacingAndGlyphs" >100</text>
<line x1="307.50" y1="370.00" x2="310.50" y2="370.00" stroke="#231f20" stroke-width="0.9"/>
<text x="304.10" y="372.65" font-size="9.0" text-anchor="end" fill="#231f20" font-weight="normal" stroke="#231f20" stroke-width="0.1" textLength="13.200000000000001" lengthAdjust="spacingAndGlyphs" >200</text>
<line x1="307.50" y1="338.05" x2="310.50" y2="338.05" stroke="#231f20" stroke-width="0.9"/>
<text x="304.10" y="340.70" font-size="9.0" text-anchor="end" fill="#231f20" font-weight="normal" stroke="#231f20" stroke-width="0.1" textLength="13.200000000000001" lengthAdjust="spacingAndGlyphs" >300</text>
<line x1="322.50" y1="433.90" x2="322.50" y2="436.90" stroke="#231f20" stroke-width="0.9"/>
<line x1="339.65" y1="433.90" x2="339.65" y2="436.90" stroke="#231f20" stroke-width="0.9"/>
<line x1="356.80" y1="433.90" x2="356.80" y2="436.90" stroke="#231f20" stroke-width="0.9"/>
<line x1="373.95" y1="433.90" x2="373.95" y2="436.90" stroke="#231f20" stroke-width="0.9"/>
<text x="348.50" y="315.90" font-size="8.8" text-anchor="middle" fill="#231f20" font-weight="normal" stroke="#231f20" stroke-width="0.1" textLength="28.0" lengthAdjust="spacingAndGlyphs" >D5 IgM</text>
<text transform="translate(284.00,375.70) rotate(-90)" font-size="9.2" text-anchor="middle" fill="#231f20" stroke="#231f20" stroke-width="0.2" textLength="63" lengthAdjust="spacingAndGlyphs">Anti-HEL IgM (MFI)</text>
<text transform="translate(325.80,443.90) rotate(-45)" font-size="9.6" text-anchor="end" fill="#231f20" stroke="#231f20" stroke-width="0.1" textLength="36.5" lengthAdjust="spacingAndGlyphs">+PBS, B6</text>
<text transform="translate(343.95,443.90) rotate(-45)" font-size="9.6" text-anchor="end" fill="#231f20" stroke="#231f20" stroke-width="0.1" textLength="57.5" lengthAdjust="spacingAndGlyphs">+anti-Duffy, B6</text>
<text transform="translate(361.30,443.90) rotate(-45)" font-size="9.6" text-anchor="end" fill="#231f20" stroke="#231f20" stroke-width="0.1" textLength="57.0" lengthAdjust="spacingAndGlyphs">+PBS, Fc&#947;RKO</text>
<text transform="translate(378.65,443.90) rotate(-45)" font-size="9.6" text-anchor="end" fill="#231f20" stroke="#231f20" stroke-width="0.1" textLength="79.0" lengthAdjust="spacingAndGlyphs">+anti-Duffy, Fc&#947;RKO</text>
<path d="M323.70,336.40 V332.40 H371.75 V336.40" stroke="#231f20" stroke-width="0.9" fill="none"/>
<text x="347.73" y="333.00" font-size="9.0" text-anchor="middle" fill="#231f20" font-weight="normal" stroke="#231f20" stroke-width="0.1" textLength="14.4" lengthAdjust="spacingAndGlyphs" >****</text>
<path d="M323.70,344.70 V340.70 H355.40 V344.70" stroke="#231f20" stroke-width="0.9" fill="none"/>
<text x="339.55" y="341.30" font-size="9.0" text-anchor="middle" fill="#231f20" font-weight="normal" stroke="#231f20" stroke-width="0.1" textLength="3.6" lengthAdjust="spacingAndGlyphs" >*</text>
<path d="M323.70,354.30 V350.30 H338.25 V354.30" stroke="#231f20" stroke-width="0.9" fill="none"/>
<text x="330.98" y="350.90" font-size="9.0" text-anchor="middle" fill="#231f20" font-weight="normal" stroke="#231f20" stroke-width="0.1" textLength="14.4" lengthAdjust="spacingAndGlyphs" >****</text>
<path d="M341.05,354.30 V350.30 H355.40 V354.30" stroke="#231f20" stroke-width="0.9" fill="none"/>
<text x="348.23" y="350.90" font-size="9.0" text-anchor="middle" fill="#231f20" font-weight="normal" stroke="#231f20" stroke-width="0.1" textLength="7.2" lengthAdjust="spacingAndGlyphs" >**</text>
<path d="M358.20,354.30 V350.30 H371.75 V354.30" stroke="#231f20" stroke-width="0.9" fill="none"/>
<text x="364.98" y="350.90" font-size="9.0" text-anchor="middle" fill="#231f20" font-weight="normal" stroke="#231f20" stroke-width="0.1" textLength="3.6" lengthAdjust="spacingAndGlyphs" >*</text>
<rect x="444.60" y="414.09" width="10" height="19.81" fill="#a283b5"/>
<path d="M449.60,416.33 V405.46 M447.00,405.46 H452.20 M447.00,416.33 H452.20" stroke="#4f1f66" stroke-width="0.9" fill="none"/>
<circle cx="445.40" cy="404.83" r="1.55" fill="#4f1f66"/>
<circle cx="449.40" cy="406.42" r="1.55" fill="#4f1f66"/>
<circle cx="453.50" cy="407.38" r="1.55" fill="#4f1f66"/>
<circle cx="445.40" cy="411.85" r="1.55" fill="#4f1f66"/>
<circle cx="453.50" cy="414.09" r="1.55" fill="#4f1f66"/>
<circle cx="445.40" cy="416.01" r="1.55" fill="#4f1f66"/>
<circle cx="449.40" cy="416.97" r="1.55" fill="#4f1f66"/>
<rect x="461.75" y="404.19" width="10" height="29.71" fill="#8d9dc6"/>
<path d="M466.75,415.37 V389.17 M464.15,389.17 H469.35 M464.15,415.37 H469.35" stroke="#1c4d8c" stroke-width="0.9" fill="none"/>
<circle cx="466.75" cy="382.14" r="1.55" fill="#1c4d8c"/>
<circle cx="466.75" cy="395.24" r="1.55" fill="#1c4d8c"/>
<circle cx="466.75" cy="406.42" r="1.55" fill="#1c4d8c"/>
<circle cx="462.45" cy="415.69" r="1.55" fill="#1c4d8c"/>
<circle cx="470.75" cy="415.69" r="1.55" fill="#1c4d8c"/>
<rect x="478.90" y="419.52" width="10" height="14.38" fill="#e88f7e"/>
<path d="M483.90,423.36 V413.13 M481.30,413.13 H486.50 M481.30,423.36 H486.50" stroke="#c8102e" stroke-width="0.9" fill="none"/>
<circle cx="479.50" cy="414.41" r="1.55" fill="#c8102e"/>
<circle cx="488.30" cy="411.85" r="1.55" fill="#c8102e"/>
<circle cx="483.90" cy="416.97" r="1.55" fill="#c8102e"/>
<circle cx="479.50" cy="420.48" r="1.55" fill="#c8102e"/>
<circle cx="488.30" cy="419.84" r="1.55" fill="#c8102e"/>
<rect x="496.05" y="430.70" width="10" height="3.20" fill="#a8d59c"/>
<path d="M501.05,433.26 V427.51 M498.45,427.51 H503.65 M498.45,433.26 H503.65" stroke="#35b24a" stroke-width="0.9" fill="none"/>
<circle cx="501.05" cy="423.36" r="1.55" fill="#35b24a"/>
<circle cx="497.85" cy="427.83" r="1.55" fill="#35b24a"/>
<circle cx="501.05" cy="428.47" r="1.55" fill="#35b24a"/>
<circle cx="505.65" cy="431.66" r="1.55" fill="#35b24a"/>
<circle cx="497.85" cy="431.66" r="1.55" fill="#35b24a"/>
<path d="M437.60,322.07 V433.90 H513.10" stroke="#231f20" stroke-width="1.1" fill="none"/>
<line x1="434.60" y1="433.90" x2="437.60" y2="433.90" stroke="#231f20" stroke-width="0.9"/>
<text x="431.20" y="436.55" font-size="9.0" text-anchor="end" fill="#231f20" font-weight="normal" stroke="#231f20" stroke-width="0.1" textLength="4.4" lengthAdjust="spacingAndGlyphs" >0</text>
<line x1="434.60" y1="401.95" x2="437.60" y2="401.95" stroke="#231f20" stroke-width="0.9"/>
<text x="431.20" y="404.60" font-size="9.0" text-anchor="end" fill="#231f20" font-weight="normal" stroke="#231f20" stroke-width="0.1" textLength="13.200000000000001" lengthAdjust="spacingAndGlyphs" >100</text>
<line x1="434.60" y1="370.00" x2="437.60" y2="370.00" stroke="#231f20" stroke-width="0.9"/>
<text x="431.20" y="372.65" font-size="9.0" text-anchor="end" fill="#231f20" font-weight="normal" stroke="#231f20" stroke-width="0.1" textLength="13.200000000000001" lengthAdjust="spacingAndGlyphs" >200</text>
<line x1="434.60" y1="338.05" x2="437.60" y2="338.05" stroke="#231f20" stroke-width="0.9"/>
<text x="431.20" y="340.70" font-size="9.0" text-anchor="end" fill="#231f20" font-weight="normal" stroke="#231f20" stroke-width="0.1" textLength="13.200000000000001" lengthAdjust="spacingAndGlyphs" >300</text>
<line x1="449.60" y1="433.90" x2="449.60" y2="436.90" stroke="#231f20" stroke-width="0.9"/>
<line x1="466.75" y1="433.90" x2="466.75" y2="436.90" stroke="#231f20" stroke-width="0.9"/>
<line x1="483.90" y1="433.90" x2="483.90" y2="436.90" stroke="#231f20" stroke-width="0.9"/>
<line x1="501.05" y1="433.90" x2="501.05" y2="436.90" stroke="#231f20" stroke-width="0.9"/>
<text x="475.60" y="315.90" font-size="8.8" text-anchor="middle" fill="#231f20" font-weight="normal" stroke="#231f20" stroke-width="0.1" textLength="28.0" lengthAdjust="spacingAndGlyphs" >D7 IgM</text>
<text transform="translate(411.10,375.70) rotate(-90)" font-size="9.2" text-anchor="middle" fill="#231f20" stroke="#231f20" stroke-width="0.2" textLength="63" lengthAdjust="spacingAndGlyphs">Anti-HEL IgM (MFI)</text>
<text transform="translate(452.90,443.90) rotate(-45)" font-size="9.6" text-anchor="end" fill="#231f20" stroke="#231f20" stroke-width="0.1" textLength="36.5" lengthAdjust="spacingAndGlyphs">+PBS, B6</text>
<text transform="translate(471.05,443.90) rotate(-45)" font-size="9.6" text-anchor="end" fill="#231f20" stroke="#231f20" stroke-width="0.1" textLength="57.5" lengthAdjust="spacingAndGlyphs">+anti-Duffy, B6</text>
<text transform="translate(488.40,443.90) rotate(-45)" font-size="9.6" text-anchor="end" fill="#231f20" stroke="#231f20" stroke-width="0.1" textLength="57.0" lengthAdjust="spacingAndGlyphs">+PBS, Fc&#947;RKO</text>
<text transform="translate(505.75,443.90) rotate(-45)" font-size="9.6" text-anchor="end" fill="#231f20" stroke="#231f20" stroke-width="0.1" textLength="79.0" lengthAdjust="spacingAndGlyphs">+anti-Duffy, Fc&#947;RKO</text>
<path d="M468.15,344.70 V340.70 H498.85 V344.70" stroke="#231f20" stroke-width="0.9" fill="none"/>
<text x="483.50" y="341.30" font-size="9.0" text-anchor="middle" fill="#231f20" font-weight="normal" stroke="#231f20" stroke-width="0.1" textLength="10.8" lengthAdjust="spacingAndGlyphs" >***</text>
<path d="M450.80,354.80 V350.80 H498.85 V354.80" stroke="#231f20" stroke-width="0.9" fill="none"/>
<text x="474.83" y="351.40" font-size="9.0" text-anchor="middle" fill="#231f20" font-weight="normal" stroke="#231f20" stroke-width="0.1" textLength="7.2" lengthAdjust="spacingAndGlyphs" >**</text>
<rect x="62.40" y="651.80" width="10" height="5.60" fill="#a283b5"/>
<path d="M67.40,654.60 V649.01 M64.80,649.01 H70.00 M64.80,654.60 H70.00" stroke="#4f1f66" stroke-width="0.9" fill="none"/>
<circle cx="63.00" cy="647.75" r="1.55" fill="#4f1f66"/>
<circle cx="66.80" cy="649.01" r="1.55" fill="#4f1f66"/>
<circle cx="71.60" cy="646.21" r="1.55" fill="#4f1f66"/>
<circle cx="63.00" cy="652.08" r="1.55" fill="#4f1f66"/>
<circle cx="70.70" cy="651.10" r="1.55" fill="#4f1f66"/>
<circle cx="66.80" cy="652.08" r="1.55" fill="#4f1f66"/>
<rect x="79.55" y="655.72" width="10" height="1.68" fill="#8d9dc6"/>
<circle cx="80.55" cy="653.48" r="1.55" fill="#1c4d8c"/>
<circle cx="84.55" cy="654.88" r="1.55" fill="#1c4d8c"/>
<circle cx="87.85" cy="655.72" r="1.55" fill="#1c4d8c"/>
<circle cx="89.35" cy="655.44" r="1.55" fill="#1c4d8c"/>
<rect x="96.70" y="652.92" width="10" height="4.48" fill="#e88f7e"/>
<path d="M101.70,654.88 V651.10 M99.10,651.10 H104.30 M99.10,654.88 H104.30" stroke="#c8102e" stroke-width="0.9" fill="none"/>
<circle cx="97.50" cy="652.08" r="1.55" fill="#c8102e"/>
<circle cx="101.00" cy="651.10" r="1.55" fill="#c8102e"/>
<circle cx="106.20" cy="651.66" r="1.55" fill="#c8102e"/>
<circle cx="97.50" cy="654.74" r="1.55" fill="#c8102e"/>
<circle cx="104.20" cy="655.02" r="1.55" fill="#c8102e"/>
<rect x="113.85" y="654.32" width="10" height="3.08" fill="#a8d59c"/>
<path d="M118.85,655.72 V652.92 M116.25,652.92 H121.45 M116.25,655.72 H121.45" stroke="#35b24a" stroke-width="0.9" fill="none"/>
<circle cx="115.65" cy="652.92" r="1.55" fill="#35b24a"/>
<circle cx="118.85" cy="652.08" r="1.55" fill="#35b24a"/>
<circle cx="122.35" cy="653.48" r="1.55" fill="#35b24a"/>
<circle cx="115.65" cy="655.02" r="1.55" fill="#35b24a"/>
<circle cx="122.35" cy="655.02" r="1.55" fill="#35b24a"/>
<path d="M55.40,542.68 V657.40 H130.90" stroke="#231f20" stroke-width="1.1" fill="none"/>
<line x1="52.40" y1="657.40" x2="55.40" y2="657.40" stroke="#231f20" stroke-width="0.9"/>
<text x="49.00" y="660.05" font-size="9.0" text-anchor="end" fill="#231f20" font-weight="normal" stroke="#231f20" stroke-width="0.1" textLength="4.4" lengthAdjust="spacingAndGlyphs" >0</text>
<line x1="52.40" y1="629.42" x2="55.40" y2="629.42" stroke="#231f20" stroke-width="0.9"/>
<text x="49.00" y="632.07" font-size="9.0" text-anchor="end" fill="#231f20" font-weight="normal" stroke="#231f20" stroke-width="0.1" textLength="13.200000000000001" lengthAdjust="spacingAndGlyphs" >200</text>
<line x1="52.40" y1="601.44" x2="55.40" y2="601.44" stroke="#231f20" stroke-width="0.9"/>
<text x="49.00" y="604.09" font-size="9.0" text-anchor="end" fill="#231f20" font-weight="normal" stroke="#231f20" stroke-width="0.1" textLength="13.200000000000001" lengthAdjust="spacingAndGlyphs" >400</text>
<line x1="52.40" y1="573.46" x2="55.40" y2="573.46" stroke="#231f20" stroke-width="0.9"/>
<text x="49.00" y="576.11" font-size="9.0" text-anchor="end" fill="#231f20" font-weight="normal" stroke="#231f20" stroke-width="0.1" textLength="13.200000000000001" lengthAdjust="spacingAndGlyphs" >600</text>
<line x1="52.40" y1="545.48" x2="55.40" y2="545.48" stroke="#231f20" stroke-width="0.9"/>
<text x="49.00" y="548.13" font-size="9.0" text-anchor="end" fill="#231f20" font-weight="normal" stroke="#231f20" stroke-width="0.1" textLength="13.200000000000001" lengthAdjust="spacingAndGlyphs" >800</text>
<line x1="67.40" y1="657.40" x2="67.40" y2="660.40" stroke="#231f20" stroke-width="0.9"/>
<line x1="84.55" y1="657.40" x2="84.55" y2="660.40" stroke="#231f20" stroke-width="0.9"/>
<line x1="101.70" y1="657.40" x2="101.70" y2="660.40" stroke="#231f20" stroke-width="0.9"/>
<line x1="118.85" y1="657.40" x2="118.85" y2="660.40" stroke="#231f20" stroke-width="0.9"/>
<text x="93.40" y="536.30" font-size="8.8" text-anchor="middle" fill="#231f20" font-weight="normal" stroke="#231f20" stroke-width="0.1" textLength="32.0" lengthAdjust="spacingAndGlyphs" >D21 IgG</text>
<text transform="translate(28.90,599.20) rotate(-90)" font-size="9.2" text-anchor="middle" fill="#231f20" stroke="#231f20" stroke-width="0.2" textLength="63" lengthAdjust="spacingAndGlyphs">Anti-HEL IgG (MFI)</text>
<text transform="translate(70.70,667.40) rotate(-45)" font-size="9.6" text-anchor="end" fill="#231f20" stroke="#231f20" stroke-width="0.1" textLength="36.5" lengthAdjust="spacingAndGlyphs">+PBS, B6</text>
<text transform="translate(88.85,667.40) rotate(-45)" font-size="9.6" text-anchor="end" fill="#231f20" stroke="#231f20" stroke-width="0.1" textLength="57.5" lengthAdjust="spacingAndGlyphs">+anti-Duffy, B6</text>
<text transform="translate(106.20,667.40) rotate(-45)" font-size="9.6" text-anchor="end" fill="#231f20" stroke="#231f20" stroke-width="0.1" textLength="57.0" lengthAdjust="spacingAndGlyphs">+PBS, Fc&#947;RKO</text>
<text transform="translate(123.55,667.40) rotate(-45)" font-size="9.6" text-anchor="end" fill="#231f20" stroke="#231f20" stroke-width="0.1" textLength="79.0" lengthAdjust="spacingAndGlyphs">+anti-Duffy, Fc&#947;RKO</text>
<path d="M68.60,567.00 V563.00 H116.65 V567.00" stroke="#231f20" stroke-width="0.9" fill="none"/>
<text x="92.62" y="563.60" font-size="9.0" text-anchor="middle" fill="#231f20" font-weight="normal" stroke="#231f20" stroke-width="0.1" textLength="3.6" lengthAdjust="spacingAndGlyphs" >*</text>
<path d="M68.60,578.50 V574.50 H83.15 V578.50" stroke="#231f20" stroke-width="0.9" fill="none"/>
<text x="75.88" y="575.10" font-size="9.0" text-anchor="middle" fill="#231f20" font-weight="normal" stroke="#231f20" stroke-width="0.1" textLength="10.8" lengthAdjust="spacingAndGlyphs" >***</text>
<rect x="188.80" y="651.38" width="10" height="6.02" fill="#a283b5"/>
<path d="M193.80,653.90 V649.29 M191.20,649.29 H196.40 M191.20,653.90 H196.40" stroke="#4f1f66" stroke-width="0.9" fill="none"/>
<circle cx="189.30" cy="648.59" r="1.55" fill="#4f1f66"/>
<circle cx="192.10" cy="650.27" r="1.55" fill="#4f1f66"/>
<circle cx="195.50" cy="650.27" r="1.55" fill="#4f1f66"/>
<circle cx="197.90" cy="651.66" r="1.55" fill="#4f1f66"/>
<circle cx="189.30" cy="654.32" r="1.55" fill="#4f1f66"/>
<rect x="205.95" y="656.98" width="10" height="0.42" fill="#8d9dc6"/>
<circle cx="207.95" cy="656.56" r="1.55" fill="#1c4d8c"/>
<circle cx="210.95" cy="656.42" r="1.55" fill="#1c4d8c"/>
<circle cx="213.95" cy="656.56" r="1.55" fill="#1c4d8c"/>
<rect x="223.10" y="652.64" width="10" height="4.76" fill="#e88f7e"/>
<path d="M228.10,654.60 V651.24 M225.50,651.24 H230.70 M225.50,654.60 H230.70" stroke="#c8102e" stroke-width="0.9" fill="none"/>
<circle cx="225.00" cy="652.64" r="1.55" fill="#c8102e"/>
<circle cx="228.10" cy="652.08" r="1.55" fill="#c8102e"/>
<circle cx="230.50" cy="652.64" r="1.55" fill="#c8102e"/>
<circle cx="224.10" cy="654.32" r="1.55" fill="#c8102e"/>
<circle cx="231.90" cy="654.32" r="1.55" fill="#c8102e"/>
<rect x="240.25" y="654.60" width="10" height="2.80" fill="#a8d59c"/>
<path d="M245.25,656.70 V648.31 M242.65,648.31 H247.85 M242.65,656.70 H247.85" stroke="#35b24a" stroke-width="0.9" fill="none"/>
<circle cx="245.25" cy="648.59" r="1.55" fill="#35b24a"/>
<circle cx="243.85" cy="651.66" r="1.55" fill="#35b24a"/>
<circle cx="241.25" cy="654.74" r="1.55" fill="#35b24a"/>
<circle cx="248.15" cy="654.74" r="1.55" fill="#35b24a"/>
<circle cx="249.95" cy="654.74" r="1.55" fill="#35b24a"/>
<path d="M181.80,542.68 V657.40 H257.30" stroke="#231f20" stroke-width="1.1" fill="none"/>
<line x1="178.80" y1="657.40" x2="181.80" y2="657.40" stroke="#231f20" stroke-width="0.9"/>
<text x="175.40" y="660.05" font-size="9.0" text-anchor="end" fill="#231f20" font-weight="normal" stroke="#231f20" stroke-width="0.1" textLength="4.4" lengthAdjust="spacingAndGlyphs" >0</text>
<line x1="178.80" y1="629.42" x2="181.80" y2="629.42" stroke="#231f20" stroke-width="0.9"/>
<text x="175.40" y="632.07" font-size="9.0" text-anchor="end" fill="#231f20" font-weight="normal" stroke="#231f20" stroke-width="0.1" textLength="13.200000000000001" lengthAdjust="spacingAndGlyphs" >200</text>
<line x1="178.80" y1="601.44" x2="181.80" y2="601.44" stroke="#231f20" stroke-width="0.9"/>
<text x="175.40" y="604.09" font-size="9.0" text-anchor="end" fill="#231f20" font-weight="normal" stroke="#231f20" stroke-width="0.1" textLength="13.200000000000001" lengthAdjust="spacingAndGlyphs" >400</text>
<line x1="178.80" y1="573.46" x2="181.80" y2="573.46" stroke="#231f20" stroke-width="0.9"/>
<text x="175.40" y="576.11" font-size="9.0" text-anchor="end" fill="#231f20" font-weight="normal" stroke="#231f20" stroke-width="0.1" textLength="13.200000000000001" lengthAdjust="spacingAndGlyphs" >600</text>
<line x1="178.80" y1="545.48" x2="181.80" y2="545.48" stroke="#231f20" stroke-width="0.9"/>
<text x="175.40" y="548.13" font-size="9.0" text-anchor="end" fill="#231f20" font-weight="normal" stroke="#231f20" stroke-width="0.1" textLength="13.200000000000001" lengthAdjust="spacingAndGlyphs" >800</text>
<line x1="193.80" y1="657.40" x2="193.80" y2="660.40" stroke="#231f20" stroke-width="0.9"/>
<line x1="210.95" y1="657.40" x2="210.95" y2="660.40" stroke="#231f20" stroke-width="0.9"/>
<line x1="228.10" y1="657.40" x2="228.10" y2="660.40" stroke="#231f20" stroke-width="0.9"/>
<line x1="245.25" y1="657.40" x2="245.25" y2="660.40" stroke="#231f20" stroke-width="0.9"/>
<text x="219.80" y="536.30" font-size="8.8" text-anchor="middle" fill="#231f20" font-weight="normal" stroke="#231f20" stroke-width="0.1" textLength="32.0" lengthAdjust="spacingAndGlyphs" >D28 IgG</text>
<text transform="translate(155.30,599.20) rotate(-90)" font-size="9.2" text-anchor="middle" fill="#231f20" stroke="#231f20" stroke-width="0.2" textLength="63" lengthAdjust="spacingAndGlyphs">Anti-HEL IgG (MFI)</text>
<text transform="translate(197.10,667.40) rotate(-45)" font-size="9.6" text-anchor="end" fill="#231f20" stroke="#231f20" stroke-width="0.1" textLength="36.5" lengthAdjust="spacingAndGlyphs">+PBS, B6</text>
<text transform="translate(215.25,667.40) rotate(-45)" font-size="9.6" text-anchor="end" fill="#231f20" stroke="#231f20" stroke-width="0.1" textLength="57.5" lengthAdjust="spacingAndGlyphs">+anti-Duffy, B6</text>
<text transform="translate(232.60,667.40) rotate(-45)" font-size="9.6" text-anchor="end" fill="#231f20" stroke="#231f20" stroke-width="0.1" textLength="57.0" lengthAdjust="spacingAndGlyphs">+PBS, Fc&#947;RKO</text>
<text transform="translate(249.95,667.40) rotate(-45)" font-size="9.6" text-anchor="end" fill="#231f20" stroke="#231f20" stroke-width="0.1" textLength="79.0" lengthAdjust="spacingAndGlyphs">+anti-Duffy, Fc&#947;RKO</text>
<path d="M195.00,577.80 V573.80 H209.55 V577.80" stroke="#231f20" stroke-width="0.9" fill="none"/>
<text x="202.28" y="574.40" font-size="9.0" text-anchor="middle" fill="#231f20" font-weight="normal" stroke="#231f20" stroke-width="0.1" textLength="7.2" lengthAdjust="spacingAndGlyphs" >**</text>
<rect x="316.70" y="654.60" width="10" height="2.80" fill="#a283b5"/>
<path d="M321.70,656.00 V653.20 M319.10,653.20 H324.30 M319.10,656.00 H324.30" stroke="#4f1f66" stroke-width="0.9" fill="none"/>
<circle cx="318.70" cy="652.22" r="1.55" fill="#4f1f66"/>
<circle cx="321.70" cy="653.48" r="1.55" fill="#4f1f66"/>
<circle cx="324.70" cy="654.04" r="1.55" fill="#4f1f66"/>
<circle cx="318.70" cy="655.44" r="1.55" fill="#4f1f66"/>
<circle cx="324.70" cy="655.44" r="1.55" fill="#4f1f66"/>
<rect x="333.85" y="592.07" width="10" height="65.33" fill="#8d9dc6"/>
<path d="M338.85,596.54 V588.85 M336.25,588.85 H341.45 M336.25,596.54 H341.45" stroke="#1c4d8c" stroke-width="0.9" fill="none"/>
<circle cx="334.85" cy="588.29" r="1.55" fill="#1c4d8c"/>
<circle cx="338.35" cy="590.67" r="1.55" fill="#1c4d8c"/>
<circle cx="343.25" cy="591.65" r="1.55" fill="#1c4d8c"/>
<circle cx="334.85" cy="593.33" r="1.55" fill="#1c4d8c"/>
<circle cx="339.45" cy="595.42" r="1.55" fill="#1c4d8c"/>
<circle cx="343.25" cy="595.56" r="1.55" fill="#1c4d8c"/>
<circle cx="334.85" cy="596.54" r="1.55" fill="#1c4d8c"/>
<rect x="351.00" y="654.88" width="10" height="2.52" fill="#e88f7e"/>
<path d="M356.00,656.70 V647.33 M353.40,647.33 H358.60 M353.40,656.70 H358.60" stroke="#c8102e" stroke-width="0.9" fill="none"/>
<circle cx="356.00" cy="647.33" r="1.55" fill="#c8102e"/>
<circle cx="356.00" cy="650.40" r="1.55" fill="#c8102e"/>
<circle cx="352.60" cy="655.44" r="1.55" fill="#c8102e"/>
<circle cx="360.00" cy="655.44" r="1.55" fill="#c8102e"/>
<circle cx="356.00" cy="655.72" r="1.55" fill="#c8102e"/>
<rect x="368.15" y="653.76" width="10" height="3.64" fill="#a8d59c"/>
<path d="M373.15,655.30 V652.92 M370.55,652.92 H375.75 M370.55,655.30 H375.75" stroke="#35b24a" stroke-width="0.9" fill="none"/>
<circle cx="369.95" cy="653.20" r="1.55" fill="#35b24a"/>
<circle cx="373.15" cy="653.76" r="1.55" fill="#35b24a"/>
<circle cx="376.35" cy="654.04" r="1.55" fill="#35b24a"/>
<circle cx="369.95" cy="655.30" r="1.55" fill="#35b24a"/>
<circle cx="376.35" cy="655.30" r="1.55" fill="#35b24a"/>
<path d="M309.70,542.68 V657.40 H385.20" stroke="#231f20" stroke-width="1.1" fill="none"/>
<line x1="306.70" y1="657.40" x2="309.70" y2="657.40" stroke="#231f20" stroke-width="0.9"/>
<text x="303.30" y="660.05" font-size="9.0" text-anchor="end" fill="#231f20" font-weight="normal" stroke="#231f20" stroke-width="0.1" textLength="4.4" lengthAdjust="spacingAndGlyphs" >0</text>
<line x1="306.70" y1="629.42" x2="309.70" y2="629.42" stroke="#231f20" stroke-width="0.9"/>
<text x="303.30" y="632.07" font-size="9.0" text-anchor="end" fill="#231f20" font-weight="normal" stroke="#231f20" stroke-width="0.1" textLength="13.200000000000001" lengthAdjust="spacingAndGlyphs" >200</text>
<line x1="306.70" y1="601.44" x2="309.70" y2="601.44" stroke="#231f20" stroke-width="0.9"/>
<text x="303.30" y="604.09" font-size="9.0" text-anchor="end" fill="#231f20" font-weight="normal" stroke="#231f20" stroke-width="0.1" textLength="13.200000000000001" lengthAdjust="spacingAndGlyphs" >400</text>
<line x1="306.70" y1="573.46" x2="309.70" y2="573.46" stroke="#231f20" stroke-width="0.9"/>
<text x="303.30" y="576.11" font-size="9.0" text-anchor="end" fill="#231f20" font-weight="normal" stroke="#231f20" stroke-width="0.1" textLength="13.200000000000001" lengthAdjust="spacingAndGlyphs" >600</text>
<line x1="306.70" y1="545.48" x2="309.70" y2="545.48" stroke="#231f20" stroke-width="0.9"/>
<text x="303.30" y="548.13" font-size="9.0" text-anchor="end" fill="#231f20" font-weight="normal" stroke="#231f20" stroke-width="0.1" textLength="13.200000000000001" lengthAdjust="spacingAndGlyphs" >800</text>
<line x1="321.70" y1="657.40" x2="321.70" y2="660.40" stroke="#231f20" stroke-width="0.9"/>
<line x1="338.85" y1="657.40" x2="338.85" y2="660.40" stroke="#231f20" stroke-width="0.9"/>
<line x1="356.00" y1="657.40" x2="356.00" y2="660.40" stroke="#231f20" stroke-width="0.9"/>
<line x1="373.15" y1="657.40" x2="373.15" y2="660.40" stroke="#231f20" stroke-width="0.9"/>
<text x="347.70" y="536.30" font-size="8.8" text-anchor="middle" fill="#231f20" font-weight="normal" stroke="#231f20" stroke-width="0.1" textLength="32.0" lengthAdjust="spacingAndGlyphs" >D21 IgG</text>
<text transform="translate(283.20,599.20) rotate(-90)" font-size="9.2" text-anchor="middle" fill="#231f20" stroke="#231f20" stroke-width="0.2" textLength="63" lengthAdjust="spacingAndGlyphs">Anti-HEL IgG (MFI)</text>
<text transform="translate(325.00,667.40) rotate(-45)" font-size="9.6" text-anchor="end" fill="#231f20" stroke="#231f20" stroke-width="0.1" textLength="36.5" lengthAdjust="spacingAndGlyphs">+PBS, B6</text>
<text transform="translate(343.15,667.40) rotate(-45)" font-size="9.6" text-anchor="end" fill="#231f20" stroke="#231f20" stroke-width="0.1" textLength="57.5" lengthAdjust="spacingAndGlyphs">+anti-Duffy, B6</text>
<text transform="translate(360.50,667.40) rotate(-45)" font-size="9.6" text-anchor="end" fill="#231f20" stroke="#231f20" stroke-width="0.1" textLength="57.0" lengthAdjust="spacingAndGlyphs">+PBS, Fc&#947;RKO</text>
<text transform="translate(377.85,667.40) rotate(-45)" font-size="9.6" text-anchor="end" fill="#231f20" stroke="#231f20" stroke-width="0.1" textLength="79.0" lengthAdjust="spacingAndGlyphs">+anti-Duffy, Fc&#947;RKO</text>
<path d="M340.25,566.00 V562.00 H370.95 V566.00" stroke="#231f20" stroke-width="0.9" fill="none"/>
<text x="355.60" y="562.60" font-size="9.0" text-anchor="middle" fill="#231f20" font-weight="normal" stroke="#231f20" stroke-width="0.1" textLength="14.4" lengthAdjust="spacingAndGlyphs" >****</text>
<path d="M322.90,578.40 V574.40 H337.45 V578.40" stroke="#231f20" stroke-width="0.9" fill="none"/>
<text x="330.17" y="575.00" font-size="9.0" text-anchor="middle" fill="#231f20" font-weight="normal" stroke="#231f20" stroke-width="0.1" textLength="14.4" lengthAdjust="spacingAndGlyphs" >****</text>
<path d="M340.25,578.40 V574.40 H354.60 V578.40" stroke="#231f20" stroke-width="0.9" fill="none"/>
<text x="347.42" y="575.00" font-size="9.0" text-anchor="middle" fill="#231f20" font-weight="normal" stroke="#231f20" stroke-width="0.1" textLength="14.4" lengthAdjust="spacingAndGlyphs" >****</text>
<rect x="443.80" y="654.60" width="10" height="2.80" fill="#a283b5"/>
<path d="M448.80,656.70 V651.80 M446.20,651.80 H451.40 M446.20,656.70 H451.40" stroke="#4f1f66" stroke-width="0.9" fill="none"/>
<circle cx="446.20" cy="649.71" r="1.55" fill="#4f1f66"/>
<circle cx="451.00" cy="650.82" r="1.55" fill="#4f1f66"/>
<circle cx="446.20" cy="655.72" r="1.55" fill="#4f1f66"/>
<circle cx="451.00" cy="655.72" r="1.55" fill="#4f1f66"/>
<circle cx="453.10" cy="655.44" r="1.55" fill="#4f1f66"/>
<rect x="460.95" y="594.72" width="10" height="62.68" fill="#8d9dc6"/>
<path d="M465.95,597.94 V589.55 M463.35,589.55 H468.55 M463.35,597.94 H468.55" stroke="#1c4d8c" stroke-width="0.9" fill="none"/>
<circle cx="461.65" cy="589.55" r="1.55" fill="#1c4d8c"/>
<circle cx="465.15" cy="591.65" r="1.55" fill="#1c4d8c"/>
<circle cx="469.95" cy="591.65" r="1.55" fill="#1c4d8c"/>
<circle cx="461.65" cy="596.26" r="1.55" fill="#1c4d8c"/>
<circle cx="465.15" cy="595.42" r="1.55" fill="#1c4d8c"/>
<circle cx="469.95" cy="595.42" r="1.55" fill="#1c4d8c"/>
<rect x="478.10" y="649.71" width="10" height="7.69" fill="#e88f7e"/>
<path d="M483.10,654.60 V640.19 M480.50,640.19 H485.70 M480.50,654.60 H485.70" stroke="#c8102e" stroke-width="0.9" fill="none"/>
<circle cx="478.80" cy="640.19" r="1.55" fill="#c8102e"/>
<circle cx="487.40" cy="640.19" r="1.55" fill="#c8102e"/>
<circle cx="483.10" cy="648.73" r="1.55" fill="#c8102e"/>
<circle cx="478.80" cy="654.32" r="1.55" fill="#c8102e"/>
<circle cx="487.40" cy="654.88" r="1.55" fill="#c8102e"/>
<rect x="495.25" y="651.38" width="10" height="6.02" fill="#a8d59c"/>
<path d="M500.25,656.00 V646.63 M497.65,646.63 H502.85 M497.65,656.00 H502.85" stroke="#35b24a" stroke-width="0.9" fill="none"/>
<circle cx="496.25" cy="646.07" r="1.55" fill="#35b24a"/>
<circle cx="504.25" cy="648.45" r="1.55" fill="#35b24a"/>
<circle cx="500.25" cy="651.38" r="1.55" fill="#35b24a"/>
<circle cx="496.25" cy="654.32" r="1.55" fill="#35b24a"/>
<circle cx="504.25" cy="654.32" r="1.55" fill="#35b24a"/>
<path d="M436.80,542.68 V657.40 H512.30" stroke="#231f20" stroke-width="1.1" fill="none"/>
<line x1="433.80" y1="657.40" x2="436.80" y2="657.40" stroke="#231f20" stroke-width="0.9"/>
<text x="430.40" y="660.05" font-size="9.0" text-anchor="end" fill="#231f20" font-weight="normal" stroke="#231f20" stroke-width="0.1" textLength="4.4" lengthAdjust="spacingAndGlyphs" >0</text>
<line x1="433.80" y1="629.42" x2="436.80" y2="629.42" stroke="#231f20" stroke-width="0.9"/>
<text x="430.40" y="632.07" font-size="9.0" text-anchor="end" fill="#231f20" font-weight="normal" stroke="#231f20" stroke-width="0.1" textLength="13.200000000000001" lengthAdjust="spacingAndGlyphs" >200</text>
<line x1="433.80" y1="601.44" x2="436.80" y2="601.44" stroke="#231f20" stroke-width="0.9"/>
<text x="430.40" y="604.09" font-size="9.0" text-anchor="end" fill="#231f20" font-weight="normal" stroke="#231f20" stroke-width="0.1" textLength="13.200000000000001" lengthAdjust="spacingAndGlyphs" >400</text>
<line x1="433.80" y1="573.46" x2="436.80" y2="573.46" stroke="#231f20" stroke-width="0.9"/>
<text x="430.40" y="576.11" font-size="9.0" text-anchor="end" fill="#231f20" font-weight="normal" stroke="#231f20" stroke-width="0.1" textLength="13.200000000000001" lengthAdjust="spacingAndGlyphs" >600</text>
<line x1="433.80" y1="545.48" x2="436.80" y2="545.48" stroke="#231f20" stroke-width="0.9"/>
<text x="430.40" y="548.13" font-size="9.0" text-anchor="end" fill="#231f20" font-weight="normal" stroke="#231f20" stroke-width="0.1" textLength="13.200000000000001" lengthAdjust="spacingAndGlyphs" >800</text>
<line x1="448.80" y1="657.40" x2="448.80" y2="660.40" stroke="#231f20" stroke-width="0.9"/>
<line x1="465.95" y1="657.40" x2="465.95" y2="660.40" stroke="#231f20" stroke-width="0.9"/>
<line x1="483.10" y1="657.40" x2="483.10" y2="660.40" stroke="#231f20" stroke-width="0.9"/>
<line x1="500.25" y1="657.40" x2="500.25" y2="660.40" stroke="#231f20" stroke-width="0.9"/>
<text x="474.80" y="536.30" font-size="8.8" text-anchor="middle" fill="#231f20" font-weight="normal" stroke="#231f20" stroke-width="0.1" textLength="32.0" lengthAdjust="spacingAndGlyphs" >D28 IgG</text>
<text transform="translate(410.30,599.20) rotate(-90)" font-size="9.2" text-anchor="middle" fill="#231f20" stroke="#231f20" stroke-width="0.2" textLength="63" lengthAdjust="spacingAndGlyphs">Anti-HEL IgG (MFI)</text>
<text transform="translate(452.10,667.40) rotate(-45)" font-size="9.6" text-anchor="end" fill="#231f20" stroke="#231f20" stroke-width="0.1" textLength="36.5" lengthAdjust="spacingAndGlyphs">+PBS, B6</text>
<text transform="translate(470.25,667.40) rotate(-45)" font-size="9.6" text-anchor="end" fill="#231f20" stroke="#231f20" stroke-width="0.1" textLength="57.5" lengthAdjust="spacingAndGlyphs">+anti-Duffy, B6</text>
<text transform="translate(487.60,667.40) rotate(-45)" font-size="9.6" text-anchor="end" fill="#231f20" stroke="#231f20" stroke-width="0.1" textLength="57.0" lengthAdjust="spacingAndGlyphs">+PBS, Fc&#947;RKO</text>
<text transform="translate(504.95,667.40) rotate(-45)" font-size="9.6" text-anchor="end" fill="#231f20" stroke="#231f20" stroke-width="0.1" textLength="79.0" lengthAdjust="spacingAndGlyphs">+anti-Duffy, Fc&#947;RKO</text>
<path d="M467.35,566.30 V562.30 H498.05 V566.30" stroke="#231f20" stroke-width="0.9" fill="none"/>
<text x="482.70" y="562.90" font-size="9.0" text-anchor="middle" fill="#231f20" font-weight="normal" stroke="#231f20" stroke-width="0.1" textLength="14.4" lengthAdjust="spacingAndGlyphs" >****</text>
<path d="M450.00,578.10 V574.10 H464.55 V578.10" stroke="#231f20" stroke-width="0.9" fill="none"/>
<text x="457.27" y="574.70" font-size="9.0" text-anchor="middle" fill="#231f20" font-weight="normal" stroke="#231f20" stroke-width="0.1" textLength="14.4" lengthAdjust="spacingAndGlyphs" >****</text>
<path d="M467.35,578.10 V574.10 H481.70 V578.10" stroke="#231f20" stroke-width="0.9" fill="none"/>
<text x="474.52" y="574.70" font-size="9.0" text-anchor="middle" fill="#231f20" font-weight="normal" stroke="#231f20" stroke-width="0.1" textLength="14.4" lengthAdjust="spacingAndGlyphs" >****</text>
<rect x="0.5" y="0.5" width="519" height="730" fill="none" stroke="#555" stroke-width="1"/>
</svg>
</body></html>
